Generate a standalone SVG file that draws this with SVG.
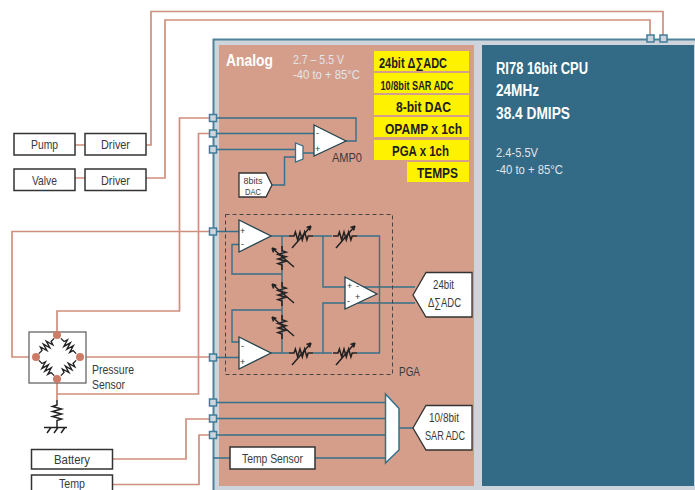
<svg xmlns="http://www.w3.org/2000/svg" width="695" height="490" viewBox="0 0 695 490">
<style>
text{font-family:"Liberation Sans",Arial,sans-serif;fill:#3a3a3a;font-size:13px}
.b{font-weight:bold;fill:#1e1e1e;font-size:14.5px}
.w{fill:#fff;font-weight:bold;font-size:16px}
.l{fill:#e2e5ea;font-size:13.5px}
.box{fill:#fff;stroke:#333;stroke-width:1.5}
.y{fill:#fff200}
.red{fill:none;stroke:#d08f7d;stroke-width:1.7}
.teal{fill:none;stroke:#33708c;stroke-width:1.4}
.port{fill:#ced4dc;stroke:#3f7d9a;stroke-width:1.5}
.amp{fill:#fff;stroke:#24444f;stroke-width:1.3}
.dot{fill:#cc7c66}
.res{fill:none;stroke:#222;stroke-width:1.5}
.sign{font-size:9px;fill:#333}
</style>
<defs>
<g id="zig"><path class="res" d="M-12 0H-7l1.4-4 2.3 8 2.3-8 2.3 8 2.3-8 2.3 8 1.300-4H12"/></g>
<g id="vr"><use href="#zig"/><path class="res" d="M-9 12L10-10M10-10l-4.500 1.500M10-10l-1.500 4.500"/></g>
</defs>
<rect x="213.500" y="39.500" width="490" height="460" fill="#ced4dc" stroke="#4f8199" stroke-width="2"/>
<rect x="219" y="45" width="255" height="441" fill="#d59e8b"/>
<rect x="482" y="45" width="212" height="441" fill="#336a85"/>
<g id="connectors">
<path class="red" d="M146 145H151V11.500H663V38M146 178H165V20H650V38M75 145H85M75 178H85"/>
<path class="red" d="M213 118H179.500V311H57V335M213 133.500H198.500V394H57M213 231.500H12V357H36M80 357H213M57 379V400"/>
<path class="red" d="M112 459H186V419H213M112 484.500H199V435H213"/>
<path class="teal" d="M213 118H356V141H346M213 133.500H314M213 149.500H295M303 153H314M272 185H284.500V157H295"/>
<path class="teal" d="M213 231.500H239M239 244.500H232V274H282M271 236H289M313 236H332M357 236H379.500V353H357M332 353H313M289 353H271M282 236V353M323 236V287H415M323 353V303H415M239 342H232V310H282M213 357.500H239"/>
<path class="teal" d="M213 402.500H385.500M213 418.500H385.500M213 435H385.500M213 458H230M315 458H385.500M399 428H413"/>
</g>
<g id="port-top"><rect class="port" x="647" y="35" width="7" height="7"/><rect class="port" x="660" y="35" width="7" height="7"/></g>
<g id="ports-left">
<rect class="port" x="209.500" y="114.500" width="7" height="7"/><rect class="port" x="209.500" y="130" width="7" height="7"/><rect class="port" x="209.500" y="146" width="7" height="7"/><rect class="port" x="209.500" y="228" width="7" height="7"/><rect class="port" x="209.500" y="354" width="7" height="7"/><rect class="port" x="209.500" y="399" width="7" height="7"/><rect class="port" x="209.500" y="415" width="7" height="7"/><rect class="port" x="209.500" y="431.500" width="7" height="7"/>
</g>
<g id="pump"><rect class="box" x="14" y="133.500" width="61" height="21.500"/><text x="31" y="148.500" textLength="27" lengthAdjust="spacingAndGlyphs">Pump</text></g>
<g id="driver1"><rect class="box" x="85" y="133.500" width="61" height="21.500"/><text x="101" y="148.500" textLength="29" lengthAdjust="spacingAndGlyphs">Driver</text></g>
<g id="valve"><rect class="box" x="14" y="169" width="61" height="21.500"/><text x="32" y="184.500" textLength="25" lengthAdjust="spacingAndGlyphs">Valve</text></g>
<g id="driver2"><rect class="box" x="85" y="169" width="61" height="21.500"/><text x="101" y="184.500" textLength="29" lengthAdjust="spacingAndGlyphs">Driver</text></g>
<g id="analog-title">
<text class="w" x="226" y="66" textLength="47" lengthAdjust="spacingAndGlyphs">Analog</text>
<text class="l" x="293" y="64" textLength="51" lengthAdjust="spacingAndGlyphs">2.7 – 5.5 V</text>
<text class="l" x="293" y="79" textLength="67" lengthAdjust="spacingAndGlyphs">-40 to + 85°C</text>
</g>
<g id="features">
<rect class="y" x="374" y="51" width="95" height="20"/><rect class="y" x="374" y="73" width="95" height="20"/><rect class="y" x="374" y="95" width="95" height="20"/><rect class="y" x="374" y="117" width="95" height="20"/><rect class="y" x="374" y="140" width="95" height="20"/><rect class="y" x="407" y="162" width="62" height="20"/>
<text class="b" x="379" y="68" textLength="68" lengthAdjust="spacingAndGlyphs">24bit Δ∑ADC</text>
<text class="b" x="380.500" y="90" textLength="73" lengthAdjust="spacingAndGlyphs" style="font-size:13px">10/8bit SAR ADC</text>
<text class="b" x="396" y="112" textLength="55" lengthAdjust="spacingAndGlyphs">8-bit DAC</text>
<text class="b" x="385" y="134" textLength="77" lengthAdjust="spacingAndGlyphs">OPAMP x 1ch</text>
<text class="b" x="392" y="156" textLength="57" lengthAdjust="spacingAndGlyphs">PGA x 1ch</text>
<text class="b" x="417" y="178" textLength="41" lengthAdjust="spacingAndGlyphs">TEMPS</text>
</g>
<g id="cpu">
<text class="w" x="496" y="74" textLength="92" lengthAdjust="spacingAndGlyphs">RI78 16bit CPU</text>
<text class="w" x="496" y="96" textLength="43" lengthAdjust="spacingAndGlyphs">24MHz</text>
<text class="w" x="496" y="119" textLength="74" lengthAdjust="spacingAndGlyphs">38.4 DMIPS</text>
<text class="l" x="496" y="157" textLength="42" lengthAdjust="spacingAndGlyphs">2.4-5.5V</text>
<text class="l" x="496" y="174" textLength="67" lengthAdjust="spacingAndGlyphs">-40 to + 85°C</text>
</g>
<g id="amp0">
<polygon class="amp" points="314,125 346,141 314,156"/>
<text class="sign" x="316" y="136">-</text><text class="sign" x="315" y="152">+</text>
<text x="332" y="162" textLength="30" lengthAdjust="spacingAndGlyphs">AMP0</text>
</g>
<g id="mux0"><polygon fill="#fff" stroke="#33708c" stroke-width="1.300" points="295.500,143 303,146 303,159 295.500,162"/></g>
<g id="dac8">
<polygon fill="#fff" stroke="#333" stroke-width="1.300" points="239,173 266,173 272,185 266,197 239,197"/>
<text x="243.500" y="184" textLength="19" lengthAdjust="spacingAndGlyphs" style="font-size:9.500px">8bits</text>
<text x="245" y="195" textLength="16" lengthAdjust="spacingAndGlyphs" style="font-size:9.500px">DAC</text>
</g>
<g id="pga">
<rect x="225.500" y="214.500" width="167" height="160" fill="none" stroke="#444" stroke-width="1" stroke-dasharray="4 3"/>
<polygon class="amp" points="239,220 271,236 239,252"/><text class="sign" x="240" y="234">+</text><text class="sign" x="241" y="247">-</text>
<polygon class="amp" points="239,337 271,353 239,369"/><text class="sign" x="241" y="349">-</text><text class="sign" x="240" y="365">+</text>
<polygon class="amp" points="345,277 377,294 345,309"/><text class="sign" x="347" y="289">+</text><text class="sign" x="356" y="289">-</text><text class="sign" x="347" y="304">-</text><text class="sign" x="355" y="300">+</text>
<use href="#vr" transform="translate(301 236)"/><use href="#vr" transform="translate(345 236)"/><use href="#vr" transform="translate(301 353)"/><use href="#vr" transform="translate(345 353)"/>
<use href="#vr" transform="translate(282 258) rotate(-90)"/><use href="#vr" transform="translate(282 294) rotate(-90)"/><use href="#vr" transform="translate(282 327) rotate(-90)"/>
<text x="399" y="376" textLength="21" lengthAdjust="spacingAndGlyphs">PGA</text>
</g>
<g id="adc24">
<polygon fill="#fff" stroke="#333" stroke-width="1.300" points="413,295 426,272.500 472,272.500 472,317 426,317"/>
<text x="433" y="289" textLength="21" lengthAdjust="spacingAndGlyphs">24bit</text>
<text x="428" y="307" textLength="33" lengthAdjust="spacingAndGlyphs">Δ∑ADC</text>
</g>
<g id="sensor">
<rect x="29" y="332" width="57" height="51" fill="#fff" stroke="#666" stroke-width="1.300"/>
<use href="#zig" transform="translate(46.500 346) rotate(-45) scale(.9)"/><use href="#zig" transform="translate(68.500 346) rotate(45) scale(.9)"/><use href="#zig" transform="translate(46.500 368) rotate(45) scale(.9)"/><use href="#zig" transform="translate(68.500 368) rotate(-45) scale(.9)"/>
<circle class="dot" cx="57" cy="335" r="4"/><circle class="dot" cx="36" cy="357" r="4"/><circle class="dot" cx="80" cy="357" r="4"/><circle class="dot" cx="57" cy="379" r="4"/>
<text x="92" y="374" textLength="42" lengthAdjust="spacingAndGlyphs">Pressure</text>
<text x="92" y="389" textLength="33" lengthAdjust="spacingAndGlyphs">Sensor</text>
</g>
<g id="ground">
<path class="res" d="M57 400V405L52.500 406.500 61.500 409 52.500 411.500 61.500 414 52.500 416.500 61.500 419 57 420.500V427M44 427.500H67M51 427.500L47 433M58 427.500L54 433M65 427.500L61 433"/>
</g>
<g id="battery"><rect class="box" x="31.500" y="449.500" width="81" height="19.500"/><text x="54" y="464" textLength="36" lengthAdjust="spacingAndGlyphs">Battery</text></g>
<g id="temp"><rect class="box" x="31.500" y="475" width="81" height="20"/><text x="59" y="487.500" textLength="26" lengthAdjust="spacingAndGlyphs">Temp</text></g>
<g id="temp-sensor"><rect class="box" x="230" y="447" width="85" height="22"/><text x="242" y="462.500" textLength="61" lengthAdjust="spacingAndGlyphs">Temp Sensor</text></g>
<g id="mux1"><polygon fill="#fff" stroke="#33708c" stroke-width="1.500" points="385.500,394 399,408.500 399,450 385.500,463"/></g>
<g id="sar-adc">
<polygon fill="#fff" stroke="#333" stroke-width="1.300" points="413,428 426,405.500 472,405.500 472,450 426,450"/>
<text x="429" y="422" textLength="30" lengthAdjust="spacingAndGlyphs">10/8bit</text>
<text x="425" y="440" textLength="40" lengthAdjust="spacingAndGlyphs">SAR ADC</text>
</g>
</svg>
